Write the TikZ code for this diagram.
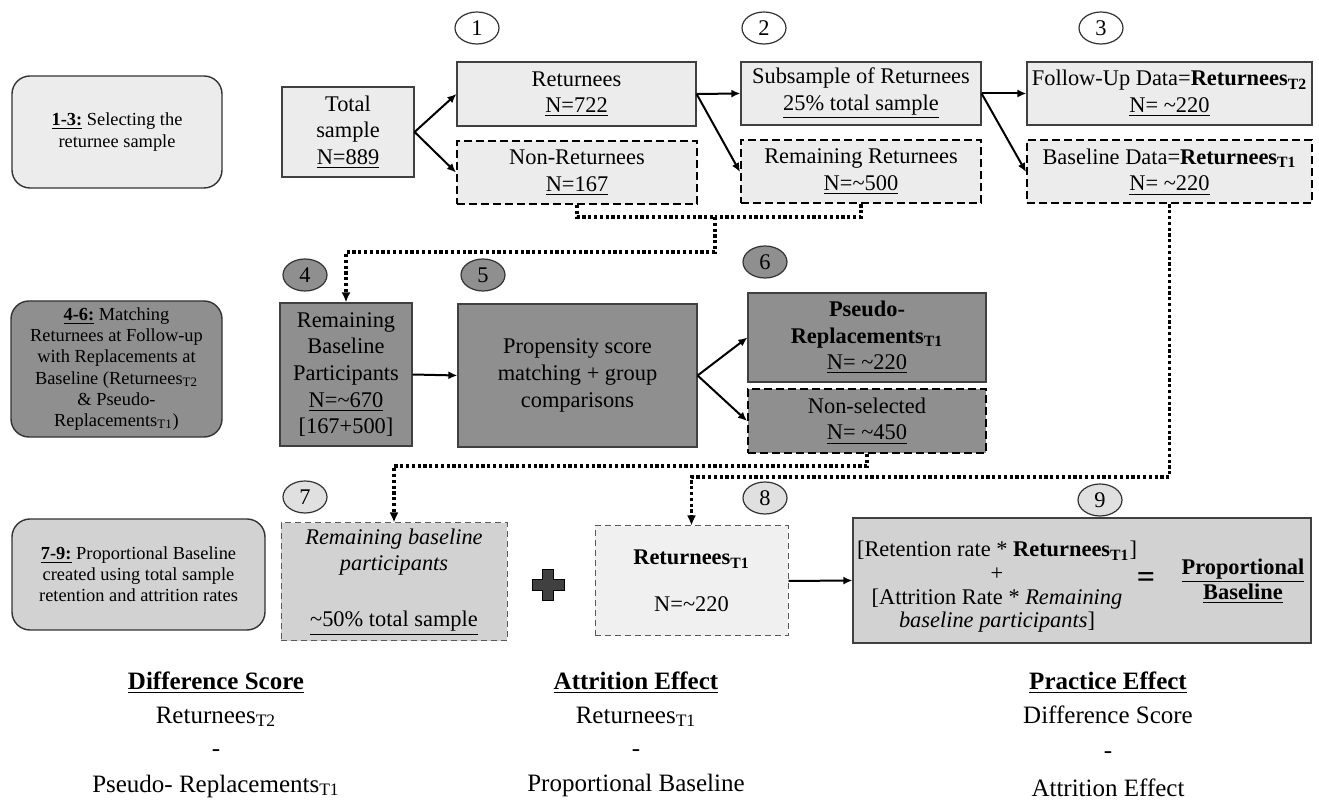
\documentclass[tikz,border=0pt]{standalone}
\usepackage{fontspec}
\setmainfont{Liberation Serif}
\usepackage{xcolor}
\usepackage{tikz}
\usetikzlibrary{arrows.meta,positioning,calc,shapes.geometric}
\definecolor{boxlight}{RGB}{236,236,236}
\definecolor{boxpale}{RGB}{240,240,240}
\definecolor{boxdark}{RGB}{143,143,143}
\definecolor{boxmid}{RGB}{210,210,210}
\definecolor{numlight}{RGB}{224,224,224}
\newcommand{\nsub}[1]{\textsubscript{#1}}

\begin{document}
\begin{tikzpicture}[x=0.5pt,y=-0.5pt,font=\fontsize{11.2}{13.3}\selectfont,
  box/.style={draw=black!75,line width=0.6pt,align=center,inner sep=1pt},
  dbox/.style={draw=black,line width=1pt,dash pattern=on 4pt off 2pt,align=center,inner sep=1pt},
  tbox/.style={draw=black!65,line width=0.5pt,dash pattern=on 3pt off 2pt,align=center,inner sep=1pt},
  lab/.style={draw=black!80,line width=0.7pt,rounded corners=9pt,align=center,
    font=\fontsize{9.2}{10.6}\selectfont},
  num/.style={draw=black!80,line width=0.6pt,ellipse,minimum width=22pt,minimum height=16pt,inner sep=0pt},
  arr/.style={-{Latex[length=4.5pt,width=4pt]},line width=1pt},
  dotarr/.style={-{Latex[length=5pt,width=4.5pt]},line width=1.6pt,dash pattern=on 1.6pt off 1.3pt},
  dotline/.style={line width=1.6pt,dash pattern=on 1.6pt off 1.3pt},
  sumtxt/.style={font=\fontsize{12.5}{15}\selectfont}]
\useasboundingbox (0,0) rectangle (1319,806);

% 1-3
\node[lab,fill=boxlight,minimum width=105pt,minimum height=56pt] (labA) at (117,132)
  {\underline{\textbf{1-3:}} Selecting the\\returnee sample};
\node[box,fill=boxlight,minimum width=66pt,minimum height=45pt] (tot) at (348,132)
  {Total\\sample\\\underline{N=889}};
\node[box,fill=boxlight,minimum width=119.5pt,minimum height=32pt] (ret) at (576.5,94)
  {Returnees\\\underline{N=722}};
\node[dbox,fill=boxlight,minimum width=120pt,minimum height=31.5pt] (nonret) at (577,172.5)
  {Non-Returnees\\\underline{N=167}};
\node[box,fill=boxlight,minimum width=120pt,minimum height=31.5pt] (sub) at (861,93.5)
  {Subsample of Returnees\\\underline{25\% total sample}};
\node[dbox,fill=boxlight,minimum width=120pt,minimum height=31.5pt] (remret) at (861,172)
  {Remaining Returnees\\\underline{N=\textasciitilde 500}};
\node[box,fill=boxlight,minimum width=142.5pt,minimum height=31.5pt] (fol) at (1169.5,93.5)
  {Follow-Up Data=\textbf{Returnees\nsub{T2}}\\\underline{N= \textasciitilde 220}};
\node[dbox,fill=boxlight,minimum width=142.5pt,minimum height=31.5pt] (base) at (1169.5,172)
  {Baseline Data=\textbf{Returnees\nsub{T1}}\\\underline{N= \textasciitilde 220}};
\node[num,fill=white] (n1) at (477,28) {1};
\node[num,fill=white] (n2) at (764,28) {2};
\node[num,fill=white] (n3) at (1101,28) {3};

% 4-6
\node[lab,fill=boxdark,minimum width=105.5pt,minimum height=68pt] (labB) at (116.5,369)
  {\underline{\textbf{4-6:}} Matching\\Returnees at Follow-up\\with Replacements at\\
   Baseline (Returnees\nsub{T2}\\\& Pseudo-\\Replacements\nsub{T1})};
\node[box,fill=boxdark,minimum width=66pt,minimum height=71.5pt] (remb) at (346,374.5)
  {Remaining\\Baseline\\Participants\\\underline{N=\textasciitilde 670}\\{[167+500]}};
\node[box,fill=boxdark,minimum width=119.5pt,minimum height=71.5pt] (psm) at (577.5,375.5)
  {Propensity score\\matching + group\\comparisons};
\node[box,fill=boxdark,minimum width=119pt,minimum height=44.5pt] (pseudo) at (867,337.5)
  {\textbf{Pseudo-}\\\textbf{Replacements\nsub{T1}}\\\underline{N= \textasciitilde 220}};
\node[dbox,fill=boxdark,minimum width=119pt,minimum height=32pt] (nonsel) at (867,421)
  {Non-selected\\\underline{N= \textasciitilde 450}};
\node[num,fill=boxdark] (n4) at (305,275) {4};
\node[num,fill=boxdark] (n5) at (483,275) {5};
\node[num,fill=boxdark] (n6) at (765,262) {6};

% 7-9
\node[lab,fill=boxmid,minimum width=126.5pt,minimum height=55.5pt] (labC) at (138.5,574.5)
  {\underline{\textbf{7-9:}} Proportional Baseline\\created using total sample\\retention and attrition rates};
\node[tbox,fill=boxmid,minimum width=113pt,minimum height=59pt] (rem7) at (394,582)
  {\textit{Remaining baseline}\\\textit{participants}\\[14.5pt]\underline{\textasciitilde 50\% total sample}};
\node[tbox,fill=boxpale,minimum width=96.5pt,minimum height=55pt] (ret8) at (691.5,581)
  {\textbf{Returnees\nsub{T1}}\\[10pt]N=\textasciitilde 220};
\node[box,fill=boxmid,minimum width=229pt,minimum height=62.5pt] (prop9) at (1082,580.5) {};
\node[align=center,font=\fontsize{11.2}{11.8}\selectfont] (form) at (997,587)
  {[Retention rate * \textbf{Returnees\nsub{T1}}]\\+\\{[Attrition Rate * \textit{Remaining}}\\
   \textit{baseline participants}]};
\node (eq) at (1146,580) {\fontsize{16}{16}\selectfont\textbf{=}};
\node[align=center,font=\fontsize{11.2}{12.5}\selectfont] (res) at (1243,581)
  {\textbf{\underline{Proportional}}\\\textbf{\underline{Baseline}}};
\node[num,fill=numlight] (n7) at (305,497) {7};
\node[num,fill=numlight] (n8) at (765,498) {8};
\node[num,fill=numlight] (n9) at (1100,500) {9};
\filldraw[fill=black!75,draw=black,line width=0.5pt]
  (542.5,570) -- (553.5,570) -- (553.5,580) -- (564,580) -- (564,591) -- (553.5,591)
  -- (553.5,601) -- (542.5,601) -- (542.5,591) -- (532,591) -- (532,580) -- (542.5,580) -- cycle;

% arrows
\draw[arr] (tot.east) -- (ret.west);
\draw[arr] (tot.east) -- (nonret.west);
\draw[arr] (ret.east) -- (sub.west);
\draw[arr] (ret.east) -- (remret.west);
\draw[arr] (sub.east) -- (fol.west);
\draw[arr] (sub.east) -- (base.west);
\draw[arr] (remb.east) -- (psm.west);
\draw[arr] (psm.east) -- (pseudo.west);
\draw[arr] (psm.east) -- (nonsel.west);
\draw[arr] (ret8.east) -- (prop9.west);

\coordinate (j1) at (715,217);
\coordinate (j2) at (715,252);
\coordinate (m1) at (691.5,477);
\draw[dotline] (nonret.south) |- (j1);
\draw[dotline] (remret.south) |- (j1);
\draw[dotarr] (j1) -- (j2) -| (remb.north);
\draw[dotarr] (nonsel.south) -- ++(0,12) -| (rem7.north);
\draw[dotarr] (base.south) |- (m1) -- (ret8.north);

% summary
\node[sumtxt] (dh) at (216,683) {\textbf{\underline{Difference Score}}};
\node[sumtxt] (d1) at (216,717) {Returnees\nsub{T2}};
\node[sumtxt] (d2) at (216,753) {-};
\node[sumtxt] (d3) at (216,786) {Pseudo- Replacements\nsub{T1}};
\node[sumtxt] (ah) at (636,683) {\textbf{\underline{Attrition Effect}}};
\node[sumtxt] (a1) at (636,717) {Returnees\nsub{T1}};
\node[sumtxt] (a2) at (636,753) {-};
\node[sumtxt] (a3) at (636,785) {Proportional Baseline};
\node[sumtxt] (ph) at (1108,683) {\textbf{\underline{Practice Effect}}};
\node[sumtxt] (p1) at (1108,715) {Difference Score};
\node[sumtxt] (p2) at (1108,755) {-};
\node[sumtxt] (p3) at (1108,788) {Attrition Effect};
\end{tikzpicture}
\end{document}
